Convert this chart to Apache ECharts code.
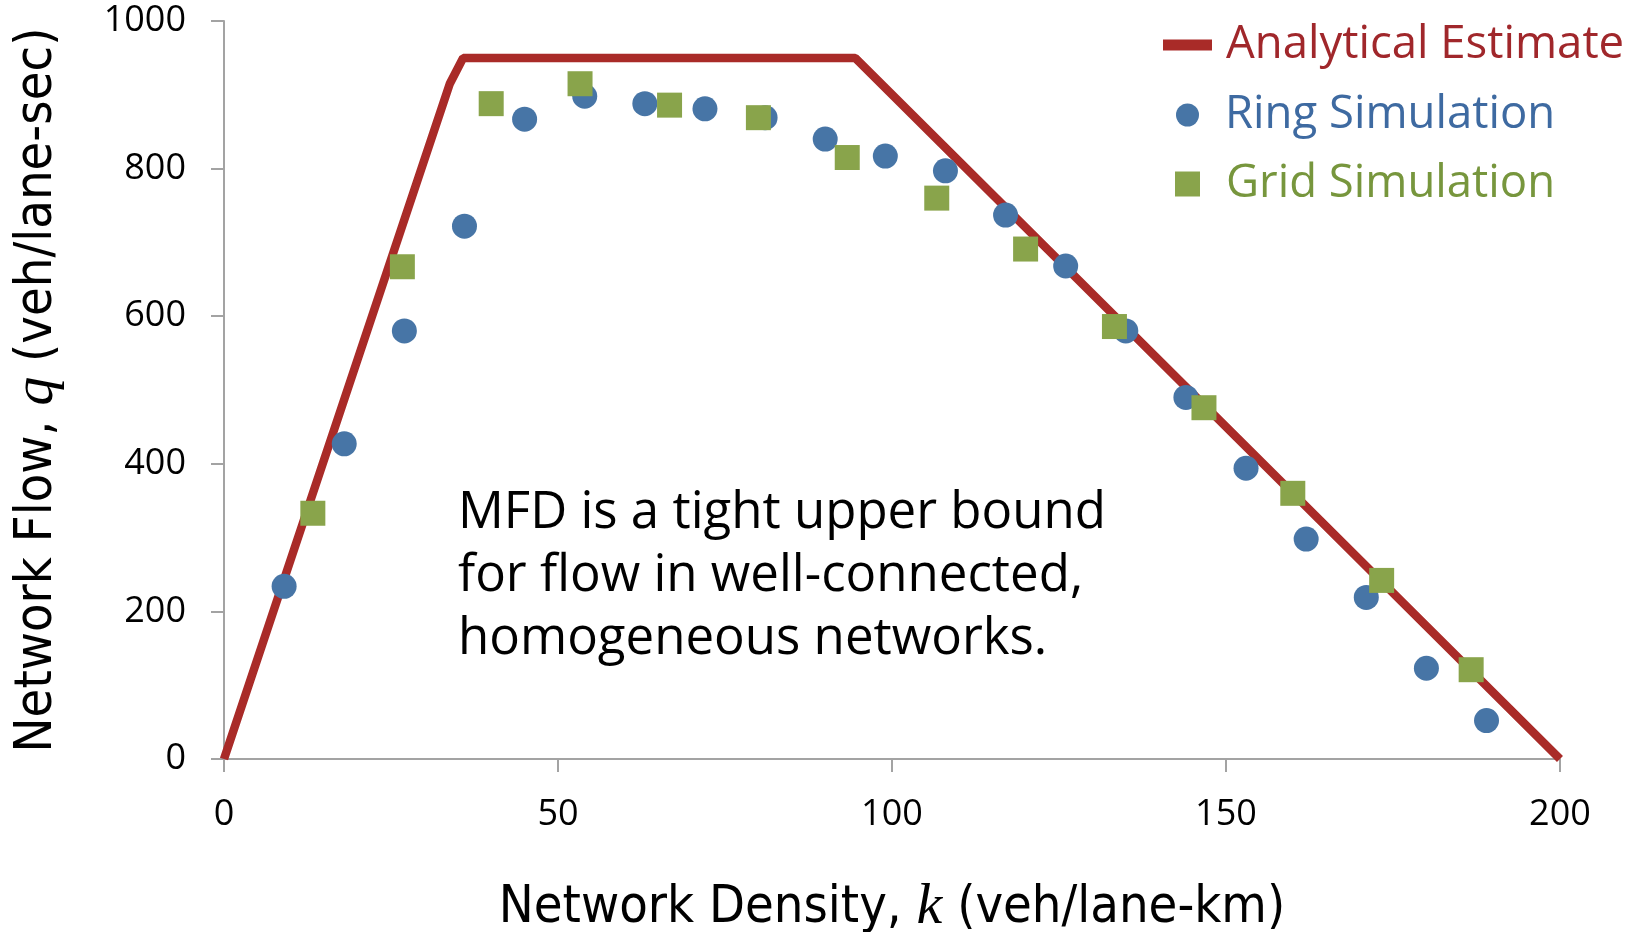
<!DOCTYPE html>
<html>
<head>
<meta charset="utf-8">
<script src="https://cdn.jsdelivr.net/npm/echarts@6/dist/echarts.min.js"></script>
<style>
  html, body { margin: 0; padding: 0; background: #fff; }
  #chart { width: 1635px; height: 932px; }
</style>
</head>
<body>
<div id="chart"></div>
<script>
// analytical MFD (trapezoid)
var analyticK = [0, 33.8, 35.8, 94.5, 200];
var analyticQ = [0, 915, 950, 950, 0];

// ring road simulation
var ringK = [9, 18, 27, 36, 45, 54, 63, 72, 81, 90, 99, 108, 117, 126, 135, 144, 153, 162, 171, 180, 189];
var ringQ = [234, 427, 580, 722, 867, 898, 888, 881, 869, 840, 817, 797, 737, 668, 580, 490, 394, 298, 219, 123, 52];

// grid network simulation
var gridK = [13.3, 26.7, 40, 53.3, 66.7, 80, 93.3, 106.7, 120, 133.3, 146.7, 160, 173.3, 186.7];
var gridQ = [333, 667, 888, 915, 886, 869, 815, 760, 691, 586, 476, 360, 242, 121];

var xTicks = [0, 50, 100, 150, 200];
var yTicks = [0, 200, 400, 600, 800, 1000];

function pairs(xs, ys) {
  var out = [];
  for (var i = 0; i < xs.length; i++) out.push([xs[i], ys[i]]);
  return out;
}

var red = '#A92B28', blue = '#4775A6', green = '#89A44B';
var axisGray = '#A3A3A3';
var sans = "'Open Sans', 'Noto Sans', sans-serif";
var narrow = "'Liberation Sans Narrow', 'DejaVu Sans Condensed', 'Roboto', sans-serif";
var serif = "'Liberation Serif', 'DejaVu Serif', serif";

var chart = echarts.init(document.getElementById('chart'));

var option = {
  backgroundColor: '#ffffff',
  animation: false,
  grid: { left: 224, right: 75, top: 21, bottom: 173, outerBoundsMode: 'none', containLabel: false },
  legend: [
    {
      data: [{ name: 'Analytical Estimate', icon: 'rect' }],
      left: 1158, top: 10, itemWidth: 49, itemHeight: 11,
      textStyle: { fontFamily: sans, fontSize: 45.5, color: '#A0272B', lineHeight: 60, padding: [0, 0, 0, 9] }
    },
    {
      data: [{ name: 'Ring Simulation', icon: 'circle' }],
      left: 1171, top: 80, itemWidth: 23, itemHeight: 23,
      textStyle: { fontFamily: sans, fontSize: 45.5, color: '#3E6AA1', lineHeight: 60, padding: [0, 0, 0, 21] }
    },
    {
      data: [{ name: 'Grid Simulation', icon: 'rect' }],
      left: 1170, top: 149, itemWidth: 25, itemHeight: 25,
      textStyle: { fontFamily: sans, fontSize: 45.5, color: '#77963D', lineHeight: 60, padding: [0, 0, 0, 21] }
    }
  ],
  xAxis: {
    type: 'value', min: 0, max: 200, interval: 50,
    name: '{t|Network Density, }{i|k}{t| (veh/lane-km)}',
    nameLocation: 'middle', nameGap: 120,
    nameTextStyle: {
      rich: {
        t: { fontFamily: narrow, fontSize: 52, color: '#000' },
        i: { fontFamily: serif, fontStyle: 'italic', fontSize: 58, color: '#000' }
      }
    },
    axisLine: { lineStyle: { color: axisGray, width: 2 } },
    axisTick: { show: true, length: 13, lineStyle: { color: axisGray, width: 2 } },
    axisLabel: { margin: 38, fontFamily: sans, fontSize: 36, color: '#000',
      formatter: function (v) { return xTicks.indexOf(v) >= 0 ? String(v) : ''; } },
    splitLine: { show: false }
  },
  yAxis: {
    type: 'value', min: 0, max: 1000, interval: 200,
    name: '{t|Network Flow, }{i|q}{t| (veh/lane-sec)}',
    nameLocation: 'middle', nameGap: 158,
    nameTextStyle: {
      rich: {
        t: { fontFamily: narrow, fontSize: 52, color: '#000' },
        i: { fontFamily: serif, fontStyle: 'italic', fontSize: 58, color: '#000' }
      }
    },
    axisLine: { show: true, lineStyle: { color: axisGray, width: 2 } },
    axisTick: { show: true, length: 13, lineStyle: { color: axisGray, width: 2 } },
    axisLabel: { margin: 38, fontFamily: sans, fontSize: 36, color: '#000',
      formatter: function (v) { return yTicks.indexOf(v) >= 0 ? String(v) : ''; } },
    splitLine: { show: false }
  },
  graphic: [
    {
      type: 'text', left: 458, top: 482,
      style: {
        text: 'MFD is a tight upper bound\nfor flow in well-connected,\nhomogeneous networks.',
        font: '51px ' + sans, fill: '#000', lineHeight: 63
      }
    }
  ],
  series: [
    {
      name: 'Analytical Estimate', type: 'line',
      data: pairs(analyticK, analyticQ),
      symbol: 'none', color: red,
      lineStyle: { color: red, width: 8.5 },
      z: 1
    },
    {
      name: 'Ring Simulation', type: 'scatter',
      data: pairs(ringK, ringQ),
      symbol: 'circle', symbolSize: 25,
      itemStyle: { color: blue, opacity: 1 },
      z: 2
    },
    {
      name: 'Grid Simulation', type: 'scatter',
      data: pairs(gridK, gridQ),
      symbol: 'rect', symbolSize: 25,
      itemStyle: { color: green, opacity: 1 },
      z: 3
    }
  ]
};

chart.setOption(option);
</script>
</body>
</html>
